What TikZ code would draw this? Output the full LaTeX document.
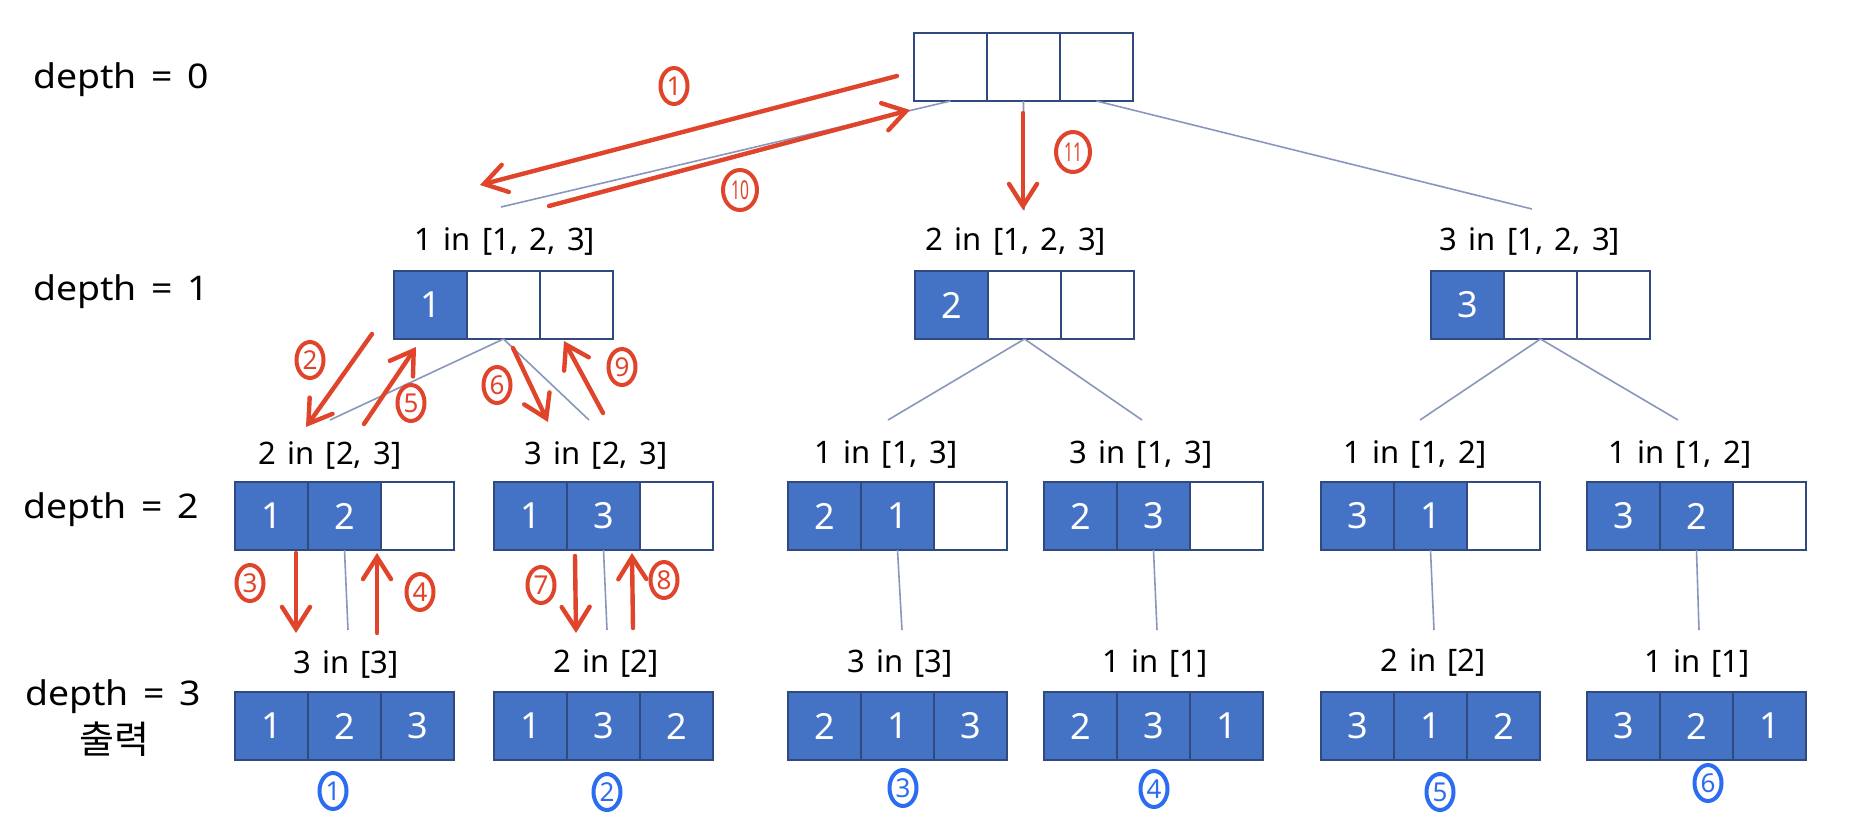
\documentclass[tikz,border=0pt]{standalone}
\usepackage{fontspec}
\usepackage{graphicx}
\usetikzlibrary{arrows.meta,shapes.geometric}
\newfontfamily\lfont[WordSpace=1.4]{Noto Sans}
\newfontfamily\dfont[WordSpace=1.5,FakeStretch=1.1]{Noto Sans}
\newfontfamily\kfont{Noto Sans CJK KR}
\definecolor{cblue}{HTML}{4472C4}
\definecolor{cbord}{HTML}{30497F}
\definecolor{cline}{HTML}{8A97BC}
\definecolor{cred}{HTML}{E0442B}
\definecolor{cblu}{HTML}{2C6CF0}
\newcommand\mylabfont{\lfont\fontsize{15.5}{18}\selectfont}
\newcommand\mydepfont{\dfont\fontsize{17}{20}\selectfont}
\newcommand\mycelfont{\lfont\fontsize{18}{20}\selectfont}
\newcommand\mynumfont{\lfont\bfseries\fontsize{13}{14}\selectfont}
\newcommand\trio[9]{%
  \node[#4, anchor=north west] (#1-1) at (#2,#3) {#5};
  \node[#6, anchor=west] (#1-2) at (#1-1.east) {#7};
  \node[#8, anchor=west] (#1-3) at (#1-2.east) {#9};
}
\tikzset{
  cellbase/.style={draw=cbord, line width=1.1pt, minimum width=36.5pt, minimum height=34pt, inner sep=0pt, outer sep=0pt, font=\mycelfont},
  cf/.style={cellbase, fill=cblue, text=white},
  ce/.style={cellbase, fill=white},
  tree/.style={draw=cline, line width=0.8pt},
  redarr/.style={draw=cred, line width=2.2pt, line cap=round, -{Straight Barb[length=11pt,width=14pt,line cap=round]}},
  rnum/.style={ellipse, draw=cred, text=cred, line width=2pt, minimum width=13.5pt, minimum height=18pt, inner sep=0pt, font=\mynumfont},
  bnum/.style={ellipse, draw=cblu, text=cblu, line width=2pt, minimum width=13.5pt, minimum height=18pt, inner sep=0pt, font=\mynumfont},
  lab/.style={anchor=base, inner sep=0pt, font=\mylabfont},
  dlab/.style={anchor=base west, inner sep=0pt, font=\mydepfont},
}
\begin{document}
\begin{tikzpicture}[x=0.5pt,y=-0.5pt]
\useasboundingbox (0,0) rectangle (1854,836);
\fill[white] (0,0) rectangle (1854,836);

% depth labels
\node[dlab] (d0) at (33,88) {depth = 0};
\node[dlab] (d1) at (33,300) {depth = 1};
\node[dlab] (d2) at (23,518) {depth = 2};
\node[dlab] (d3) at (25,705) {depth = 3};
\node[inner sep=0pt, font=\kfont\fontsize{19}{20}\selectfont] (out) at (114,739) {출력};

% boxes
\trio{root}{914}{33}{ce}{}{ce}{}{ce}{}
\trio{A}{394}{271}{cf}{1}{ce}{}{ce}{}
\trio{B}{915}{271}{cf}{2}{ce}{}{ce}{}
\trio{C}{1431}{271}{cf}{3}{ce}{}{ce}{}
\trio{a2}{235}{482}{cf}{1}{cf}{2}{ce}{}
\trio{b2}{494}{482}{cf}{1}{cf}{3}{ce}{}
\trio{c2}{788}{482}{cf}{2}{cf}{1}{ce}{}
\trio{d2}{1044}{482}{cf}{2}{cf}{3}{ce}{}
\trio{e2}{1321}{482}{cf}{3}{cf}{1}{ce}{}
\trio{f2}{1587}{482}{cf}{3}{cf}{2}{ce}{}
\trio{a3}{235}{692}{cf}{1}{cf}{2}{cf}{3}
\trio{b3}{494}{692}{cf}{1}{cf}{3}{cf}{2}
\trio{c3}{788}{692}{cf}{2}{cf}{1}{cf}{3}
\trio{d3}{1044}{692}{cf}{2}{cf}{3}{cf}{1}
\trio{e3}{1321}{692}{cf}{3}{cf}{1}{cf}{2}
\trio{f3}{1587}{692}{cf}{3}{cf}{2}{cf}{1}

% labels above boxes
\node[lab] (lA) at (505,250) {1 in [1, 2, 3]};
\node[lab] (lB) at (1016,250) {2 in [1, 2, 3]};
\node[lab] (lC) at (1530,250) {3 in [1, 2, 3]};
\node[lab] (la2) at (330,464) {2 in [2, 3]};
\node[lab] (lb2) at (596,464) {3 in [2, 3]};
\node[lab] (lc2) at (886,463) {1 in [1, 3]};
\node[lab] (ld2) at (1141,463) {3 in [1, 3]};
\node[lab] (le2) at (1415,463) {1 in [1, 2]};
\node[lab] (lf2) at (1680,463) {1 in [1, 2]};
\node[lab] (la3) at (346,673) {3 in [3]};
\node[lab] (lb3) at (606,672) {2 in [2]};
\node[lab] (lc3) at (900,672) {3 in [3]};
\node[lab] (ld3) at (1155,672) {1 in [1]};
\node[lab] (le3) at (1433,671) {2 in [2]};
\node[lab] (lf3) at (1697,672) {1 in [1]};

% tree connectors
\coordinate (eA) at (501,207);
\coordinate (eB) at (1024,210);
\coordinate (eC) at (1532,209);
\coordinate (ea2) at (330,420);
\coordinate (eb2) at (589,420);
\coordinate (ec2) at (888,420);
\coordinate (ed2) at (1142,420);
\coordinate (ee2) at (1420,420);
\coordinate (ef2) at (1678,420);
\coordinate (ea3) at (348,630);
\coordinate (eb3) at (607,630);
\coordinate (ec3) at (902,630);
\coordinate (ed3) at (1157,630);
\coordinate (ee3) at (1434,630);
\coordinate (ef3) at (1699,630);
\draw[tree] (root-1.south) -- (eA);
\draw[tree] (root-2.south) -- (eB);
\draw[tree] (root-3.south) -- (eC);
\draw[tree] (A-2.south) -- (ea2);
\draw[tree] (A-2.south) -- (eb2);
\draw[tree] (B-2.south) -- (ec2);
\draw[tree] (B-2.south) -- (ed2);
\draw[tree] (C-2.south) -- (ee2);
\draw[tree] (C-2.south) -- (ef2);
\draw[tree] (a2-2.south) -- (ea3);
\draw[tree] (b2-2.south) -- (eb3);
\draw[tree] (c2-2.south) -- (ec3);
\draw[tree] (d2-2.south) -- (ed3);
\draw[tree] (e2-2.south) -- (ee3);
\draw[tree] (f2-2.south) -- (ef3);

% red arrows
\coordinate (r1s) at (897,76);   \coordinate (r1e) at (480,185);
\coordinate (r10s) at (549,206); \coordinate (r10e) at (910,110);
\coordinate (r11s) at (1023,113);\coordinate (r11e) at (1023,210);
\coordinate (r2s) at (372,334);  \coordinate (r2e) at (306,427);
\coordinate (r5s) at (364,424);  \coordinate (r5e) at (416,347);
\coordinate (r6s) at (513,348);  \coordinate (r6e) at (548,422);
\coordinate (r9s) at (603,413);  \coordinate (r9e) at (564,341);
\coordinate (r3s) at (296,553);  \coordinate (r3e) at (296,633);
\coordinate (r4s) at (377,633);  \coordinate (r4e) at (377,553);
\coordinate (r7s) at (575,556);  \coordinate (r7e) at (576,633);
\coordinate (r8s) at (633,628);  \coordinate (r8e) at (632,553);
\draw[redarr] (r1s) -- (r1e);
\draw[redarr] (r10s) -- (r10e);
\draw[redarr] (r11s) -- (r11e);
\draw[redarr] (r2s) -- (r2e);
\draw[redarr] (r5s) -- (r5e);
\draw[redarr] (r6s) -- (r6e);
\draw[redarr] (r9s) -- (r9e);
\draw[redarr] (r3s) -- (r3e);
\draw[redarr] (r4s) -- (r4e);
\draw[redarr] (r7s) -- (r7e);
\draw[redarr] (r8s) -- (r8e);

% red step numbers
\node[rnum] (n1) at (674,86) {1};
\node[rnum, minimum width=17pt, minimum height=20pt] (n10) at (740,190) {\scalebox{0.6}[1]{10}};
\node[rnum, minimum width=17pt, minimum height=20pt] (n11) at (1073,152) {\scalebox{0.6}[1]{11}};
\node[rnum] (n2) at (310,360) {2};
\node[rnum] (n5) at (411,403) {5};
\node[rnum] (n6) at (497,385) {6};
\node[rnum] (n9) at (622,367) {9};
\node[rnum] (n3) at (250,583) {3};
\node[rnum] (n4) at (420,592) {4};
\node[rnum] (n7) at (541,585) {7};
\node[rnum] (n8) at (664,580) {8};

% blue output numbers
\node[bnum] (o1) at (333,791) {1};
\node[bnum] (o2) at (607,792) {2};
\node[bnum] (o3) at (903,788) {3};
\node[bnum] (o4) at (1154,789) {4};
\node[bnum] (o5) at (1440,792) {5};
\node[bnum] (o6) at (1708,783) {6};
\end{tikzpicture}
\end{document}
